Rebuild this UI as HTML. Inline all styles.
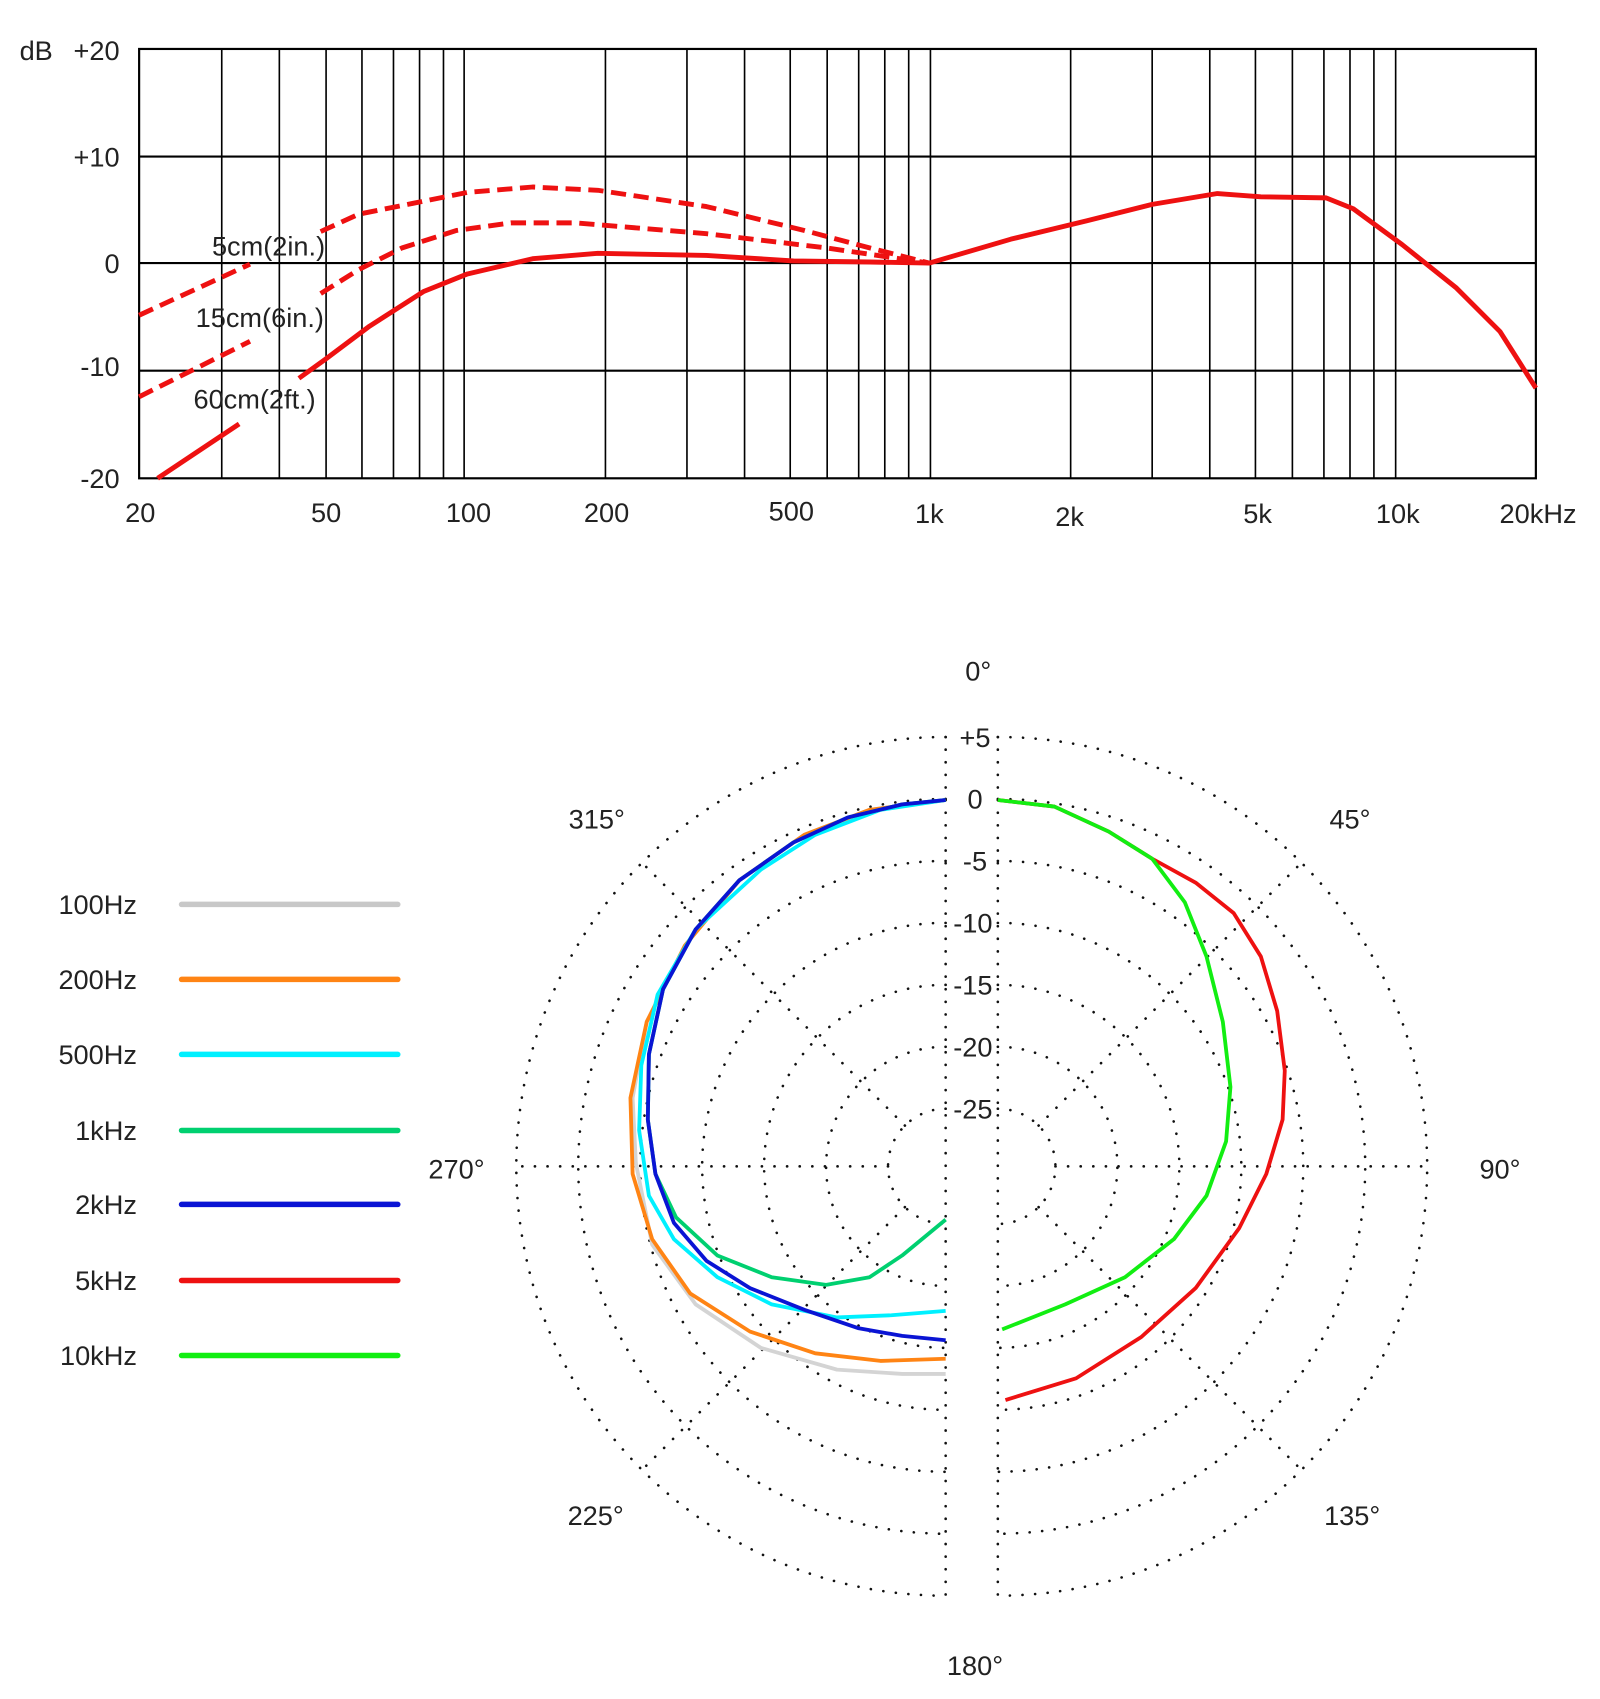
<!DOCTYPE html>
<html><head><meta charset="utf-8"><style>
html,body{margin:0;padding:0;background:#fff}
svg{display:block}
text{font-family:"Liberation Sans",sans-serif;fill:#222}
</style></head><body>
<svg width="1600" height="1699" viewBox="0 0 1472 1563" xmlns="http://www.w3.org/2000/svg">
<g stroke="#000" stroke-width="1.5">
<line x1="204" y1="45" x2="204" y2="440"/><line x1="257" y1="45" x2="257" y2="440"/><line x1="300" y1="45" x2="300" y2="440"/><line x1="333" y1="45" x2="333" y2="440"/><line x1="362" y1="45" x2="362" y2="440"/><line x1="386" y1="45" x2="386" y2="440"/><line x1="408" y1="45" x2="408" y2="440"/><line x1="427" y1="45" x2="427" y2="440"/>
<line x1="557" y1="45" x2="557" y2="440"/><line x1="632" y1="45" x2="632" y2="440"/><line x1="685" y1="45" x2="685" y2="440"/><line x1="727" y1="45" x2="727" y2="440"/><line x1="761" y1="45" x2="761" y2="440"/><line x1="790" y1="45" x2="790" y2="440"/><line x1="814" y1="45" x2="814" y2="440"/><line x1="836" y1="45" x2="836" y2="440"/><line x1="856" y1="45" x2="856" y2="440"/>
<line x1="985" y1="45" x2="985" y2="440"/><line x1="1060" y1="45" x2="1060" y2="440"/><line x1="1113" y1="45" x2="1113" y2="440"/><line x1="1155" y1="45" x2="1155" y2="440"/><line x1="1189" y1="45" x2="1189" y2="440"/><line x1="1218" y1="45" x2="1218" y2="440"/><line x1="1242" y1="45" x2="1242" y2="440"/><line x1="1264" y1="45" x2="1264" y2="440"/><line x1="1284" y1="45" x2="1284" y2="440"/>
</g>
<g stroke="#000" stroke-width="2" fill="none">
<rect x="128" y="45" width="1285" height="395"/>
<line x1="128" y1="144" x2="1413" y2="144"/><line x1="128" y1="242" x2="1413" y2="242"/><line x1="128" y1="341" x2="1413" y2="341"/>
</g>
<g stroke="#ee1111" stroke-width="4.5" fill="none" stroke-linejoin="round" stroke-linecap="butt">
<polyline points="145,440 220,390"/>
<polyline points="275,348 300,330 340,300 390,268 430,252 490,238 550,233 650,235 730,240 800,241 855,242 930,220 1000,203 1060,188 1120,178 1160,181 1220,182 1245,192 1290,225 1340,265 1380,305 1413,357"/>
<g stroke-dasharray="14 7">
<polyline points="128,365 230,314"/>
<polyline points="295,270 330,248 370,228 420,212 470,205 530,205 650,215 760,228 855,242"/>
<polyline points="128,290 230,243"/>
<polyline points="295,213 330,197 380,187 430,177 490,172 550,175 650,190 740,212 800,228 855,242"/>
</g>
</g>
<g font-size="25">
<text x="195" y="235">5cm(2in.)</text>
<text x="180" y="301">15cm(6in.)</text>
<text x="178" y="376">60cm(2ft.)</text>
<text x="18" y="55">dB</text>
<g text-anchor="end"><text x="110" y="55">+20</text><text x="110" y="153">+10</text><text x="110" y="251">0</text><text x="110" y="346">-10</text><text x="110" y="449">-20</text></g>
<g text-anchor="middle"><text x="129" y="480">20</text><text x="300" y="480">50</text><text x="431" y="480">100</text><text x="558" y="480">200</text><text x="728" y="479">500</text><text x="855" y="481">1k</text><text x="984" y="484">2k</text><text x="1157" y="481">5k</text><text x="1286" y="481">10k</text><text x="1415" y="481">20kHz</text></g>
</g>
<g stroke="#111" stroke-width="2.4" fill="none" stroke-linecap="round" stroke-dasharray="0.1 11.5">
<path d="M870,678 A395,395 0 0 0 870,1468 M870,735 A338,338 0 0 0 870,1411 M870,792 A281,281 0 0 0 870,1354 M870,849 A224,224 0 0 0 870,1297 M870,906 A167,167 0 0 0 870,1240 M870,963 A110,110 0 0 0 870,1183 M870,1020 A53,53 0 0 0 870,1126"/>
<path d="M918,678 A395,395 0 0 1 918,1468 M918,735 A338,338 0 0 1 918,1411 M918,792 A281,281 0 0 1 918,1354 M918,849 A224,224 0 0 1 918,1297 M918,906 A167,167 0 0 1 918,1240 M918,963 A110,110 0 0 1 918,1183 M918,1020 A53,53 0 0 1 918,1126"/>
<line x1="870" y1="678" x2="870" y2="1468"/><line x1="918" y1="678" x2="918" y2="1468"/>
<line x1="817" y1="1073" x2="475" y2="1073"/><line x1="971" y1="1073" x2="1313" y2="1073"/>
<line x1="832.5" y1="1035.5" x2="590.7" y2="793.7"/><line x1="832.5" y1="1110.5" x2="590.7" y2="1352.3"/>
<line x1="955.5" y1="1035.5" x2="1197.3" y2="793.7"/><line x1="955.5" y1="1110.5" x2="1197.3" y2="1352.3"/>
</g>
<g font-size="25" text-anchor="middle">
<text x="897" y="687">+5</text><text x="897" y="744">0</text><text x="897" y="801">-5</text><text x="895" y="858">-10</text><text x="895" y="915">-15</text><text x="895" y="972">-20</text><text x="895" y="1029">-25</text>
<text x="900" y="626">0°</text><text x="1242" y="762">45°</text><text x="1380" y="1084">90°</text><text x="1244" y="1403">135°</text><text x="897" y="1541">180°</text><text x="548" y="1403">225°</text><text x="420" y="1084">270°</text><text x="549" y="762">315°</text>
</g>
<g fill="none" stroke-width="3.5" stroke-linejoin="round">
<polyline stroke="#d4d4d4" points="870,736 800,745 740,768 680,810 630,870 595,940 582,1010 585,1070 600,1145 640,1200 700,1240 770,1260 830,1264 870,1264"/>
<polyline stroke="#ff8414" points="870,736 800,745 740,768 680,810 630,870 595,940 580,1010 582,1080 600,1140 635,1190 690,1225 750,1245 810,1252 870,1250"/>
<polyline stroke="#00f0ff" points="870,736 810,745 750,768 700,800 640,855 605,915 590,980 588,1040 597,1100 620,1140 660,1175 710,1200 770,1212 820,1210 870,1206"/>
<polyline stroke="#00d070" points="870,736 830,740 780,752 730,775 680,810 640,855 610,910 597,970 596,1030 603,1080 622,1120 660,1155 710,1175 760,1182 800,1175 830,1155 870,1122"/>
<polyline stroke="#0a14d4" points="870,736 830,740 780,752 730,775 680,810 640,855 610,910 597,970 596,1030 603,1080 620,1125 650,1160 690,1185 740,1205 790,1222 830,1229 870,1233"/>
<polyline stroke="#ee1111" points="918,736 970,742 1020,765 1060,790 1100,812 1135,840 1160,880 1175,930 1182,985 1180,1030 1165,1080 1140,1130 1100,1185 1050,1230 990,1268 925,1288"/>
<polyline stroke="#12ee12" points="918,736 970,742 1020,765 1060,790 1090,830 1110,880 1125,940 1132,1000 1128,1050 1110,1100 1080,1140 1035,1175 980,1200 922,1223"/>
</g>
<g font-size="25" text-anchor="end">
<text x="126" y="841">100Hz</text><text x="126" y="910">200Hz</text><text x="126" y="979">500Hz</text><text x="126" y="1049">1kHz</text><text x="126" y="1117">2kHz</text><text x="126" y="1187">5kHz</text><text x="126" y="1256">10kHz</text>
</g>
<g stroke-width="5" stroke-linecap="round">
<line x1="167" y1="832" x2="366" y2="832" stroke="#c8c8c8"/>
<line x1="167" y1="901" x2="366" y2="901" stroke="#ff8414"/>
<line x1="167" y1="970" x2="366" y2="970" stroke="#00f0ff"/>
<line x1="167" y1="1040" x2="366" y2="1040" stroke="#00d070"/>
<line x1="167" y1="1108" x2="366" y2="1108" stroke="#0a14d4"/>
<line x1="167" y1="1178" x2="366" y2="1178" stroke="#ee1111"/>
<line x1="167" y1="1247" x2="366" y2="1247" stroke="#12ee12"/>
</g>
</svg>
</body></html>
